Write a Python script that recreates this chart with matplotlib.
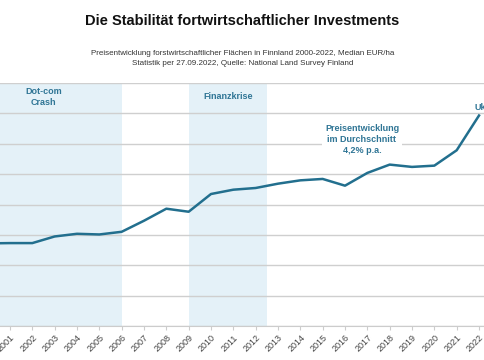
import matplotlib.pyplot as plt

years = list(range(2000, 2023))
prices = [1360, 1365, 1365, 1474, 1518, 1507, 1551, 1733, 1931, 1881, 2173, 2244,
          2272, 2343, 2398, 2421, 2310, 2520, 2657, 2619, 2640, 2893, 3465]

crises = [('Dot-com\nCrash', 1999.0, 2006.0), ('Finanzkrise', 2009.0, 2012.5)]

line_col = '#226f8e'
text_col = '#2f7595'
shade_col = '#e4f1f8'

plt.rcParams['font.family'] = ['Liberation Sans', 'DejaVu Sans']

fig = plt.figure(figsize=(4.85, 3.6), dpi=100)
ax = fig.add_axes([-0.0485, 0.0944, 1.0592, 0.675])

for label, x0, x1 in crises:
    ax.axvspan(x0, x1, color=shade_col, lw=0, zorder=0)
    ax.text((x0 + x1) / 2, 3770, label, ha='center', va='center', fontsize=6.5,
            fontweight='bold', color=text_col, linespacing=1.2)

ax.plot(years, prices, color=line_col, lw=1.8, zorder=3)

ax.text(2016.76, 3069, 'Preisentwicklung\nim Durchschnitt\n4,2% p.a.', ha='center',
        va='center', fontsize=6.5, fontweight='bold', color=text_col, linespacing=1.3,
        bbox=dict(facecolor='white', edgecolor='none', pad=2), zorder=4)
ax.text(2023.1, 3690, 'Inflation\nUkraine-Krieg', ha='center', va='center',
        fontsize=6.5, fontweight='bold', color=text_col, linespacing=1.4)

ax.set_xlim(1999.5, 2022.5)
ax.set_ylim(0, 4000)
ax.set_yticks(range(0, 4001, 500))
ax.set_yticklabels([])
ax.tick_params(axis='y', length=0)
ax.grid(axis='y', color='#cfcfcf', lw=1, zorder=1)
ax.set_axisbelow(True)

ax.set_xticks(years)
ax.set_xticklabels([str(y) for y in years], rotation=45, ha='right', va='top',
                   rotation_mode='anchor', fontsize=6.5, color='#444444')
ax.tick_params(axis='x', length=3, color='#cccccc', pad=2)

for s in ['left', 'right', 'top']:
    ax.spines[s].set_visible(False)
ax.spines['bottom'].set_color('#cccccc')

fig.text(0.5, 0.942, 'Die Stabilität fortwirtschaftlicher Investments', ha='center',
         va='center', fontsize=10.5, fontweight='bold', color='#111111')
fig.text(0.5, 0.837, 'Preisentwicklung forstwirtschaftlicher Flächen in Finnland 2000-2022, Median EUR/ha\n'
         'Statistik per 27.09.2022, Quelle: National Land Survey Finland',
         ha='center', va='center', fontsize=5.8, color='#333333', linespacing=1.55)

fig.savefig('out.png', dpi=100)
